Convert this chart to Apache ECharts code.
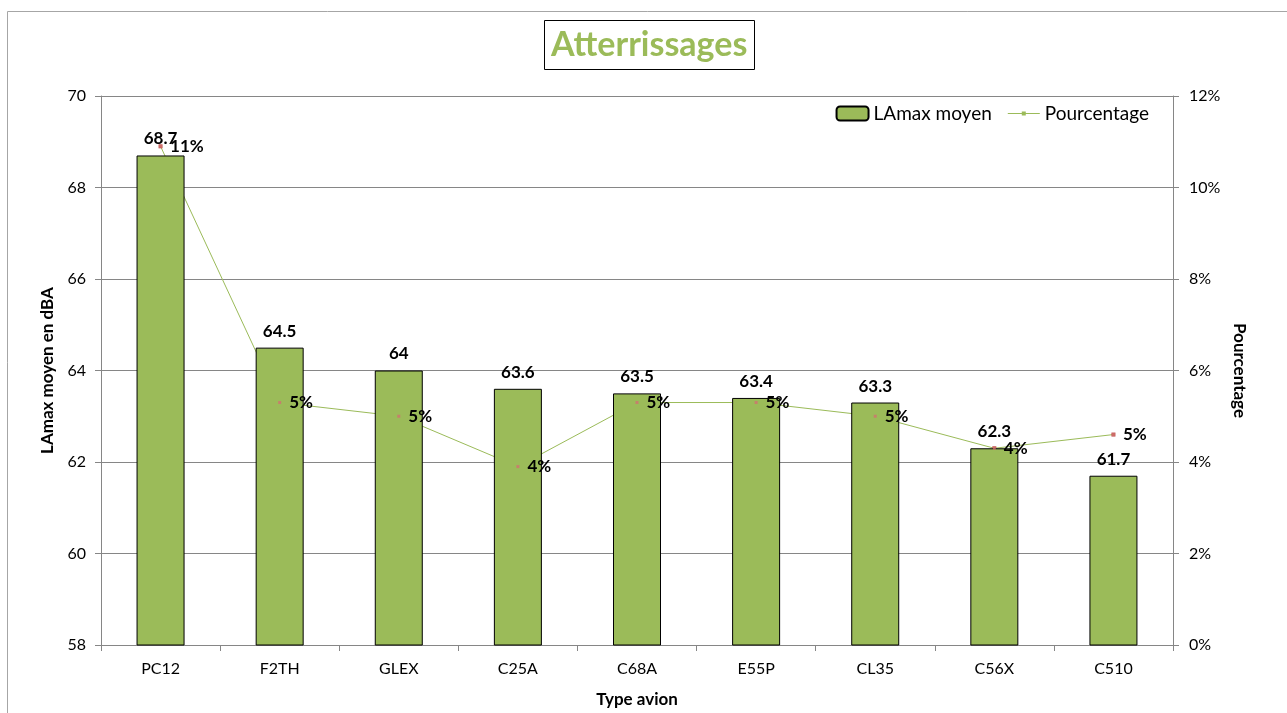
<!DOCTYPE html>
<html>
<head>
<meta charset="utf-8">
<script src="https://cdn.jsdelivr.net/npm/echarts@6/dist/echarts.min.js"></script>
<style>
html, body { margin: 0; padding: 0; background: #fff; }
#chart { width: 1287px; height: 713px; }
</style>
</head>
<body>
<div id="chart"></div>
<script>
// données
var types = ['PC12', 'F2TH', 'GLEX', 'C25A', 'C68A', 'E55P', 'CL35', 'C56X', 'C510'];
var lamax = [68.7, 64.5, 64, 63.6, 63.5, 63.4, 63.3, 62.3, 61.7];
var pourcentage = [10.9, 5.3, 5.0, 3.9, 5.3, 5.3, 5.0, 4.3, 4.6];

var vert = '#9BBB59';
var rouge = '#C0504D';
var police = 'Lato, "Open Sans", sans-serif';

var myChart = echarts.init(document.getElementById('chart'));

var option = {
	backgroundColor: '#fff',
	textStyle: { fontFamily: police },
	title: {
		text: 'Atterrissages',
		left: 544,
		top: 20,
		padding: [8, 7, 8, 7],
		borderColor: '#000',
		borderWidth: 1,
		textStyle: { color: vert, fontSize: 34, fontWeight: 'bold', fontFamily: police }
	},
	graphic: [{
		type: 'rect',
		shape: { x: 7.5, y: 11.5, width: 1300, height: 720 },
		style: { fill: 'none', stroke: '#a6a6a6', lineWidth: 1 },
		silent: true
	}],
	legend: {
		right: 133,
		top: 99,
		itemGap: 16,
		itemWidth: 32,
		itemHeight: 14,
		textStyle: { fontSize: 19, color: '#000', fontFamily: police },
		data: [
			{ name: 'LAmax moyen' },
			{
				name: 'Pourcentage',
				icon: 'path://M0,6.5h14v-1.5h4v1.5h14v1h-14v1.5h-4v-1.5h-14z',
				itemStyle: { color: vert }
			}
		]
	},
	grid: { left: 101, right: 114, top: 96, bottom: 67 },
	xAxis: {
		type: 'category',
		data: types,
		name: 'Type avion',
		nameLocation: 'middle',
		nameGap: 46,
		nameTextStyle: { fontSize: 17, fontWeight: 'bold', color: '#000' },
		axisLine: { lineStyle: { color: '#868686' } },
		axisTick: { show: true, alignWithLabel: false, length: 6, lineStyle: { color: '#868686' } },
		axisLabel: { fontSize: 16, color: '#000', margin: 16 }
	},
	yAxis: [{
		type: 'value',
		min: 58,
		max: 70,
		interval: 2,
		name: 'LAmax moyen en dBA',
		nameLocation: 'middle',
		nameGap: 45,
		nameRotate: 90,
		nameTextStyle: { fontSize: 17, fontWeight: 'bold', color: '#000' },
		axisLine: { show: true, lineStyle: { color: '#868686' } },
		axisTick: { show: true, length: 6, lineStyle: { color: '#868686' } },
		axisLabel: { fontSize: 16, color: '#000', margin: 15 },
		splitLine: { lineStyle: { color: '#868686' } }
	}, {
		type: 'value',
		min: 0,
		max: 12,
		interval: 2,
		name: 'Pourcentage',
		nameLocation: 'middle',
		nameGap: 56,
		nameRotate: -90,
		nameTextStyle: { fontSize: 17, fontWeight: 'bold', color: '#000' },
		axisLine: { show: true, lineStyle: { color: '#868686' } },
		axisTick: { show: true, length: 6, lineStyle: { color: '#868686' } },
		axisLabel: { fontSize: 16, color: '#000', margin: 16, formatter: '{value}%' },
		splitLine: { show: false }
	}],
	series: [
		{
			name: 'LAmax moyen',
			type: 'bar',
			data: lamax,
			barWidth: 48,
			z: 2,
			itemStyle: { color: vert, borderColor: '#000', borderWidth: 1 },
			label: {
				show: true,
				position: 'top',
				distance: 8,
				fontSize: 17,
				fontWeight: 'bold',
				color: '#000'
			}
		},
		{
			name: 'Pourcentage',
			type: 'line',
			yAxisIndex: 1,
			data: pourcentage,
			z: 1,
			symbol: 'rect',
			symbolSize: 4,
			showSymbol: true,
			itemStyle: { color: rouge },
			lineStyle: { color: vert, width: 1 }
		},
		{
			name: 'points',
			type: 'scatter',
			yAxisIndex: 1,
			data: pourcentage,
			z: 3,
			symbol: 'rect',
			symbolSize: 3,
			itemStyle: { color: '#D0736F' },
			label: {
				show: true,
				position: 'right',
				distance: 8,
				fontSize: 17,
				fontWeight: 'bold',
				color: '#000',
				opacity: 1,
				textBorderWidth: 0,
				formatter: function(p) { return Math.round(p.value) + '%'; }
			}
		}
	]
};

myChart.setOption(option);
</script>
</body>
</html>
